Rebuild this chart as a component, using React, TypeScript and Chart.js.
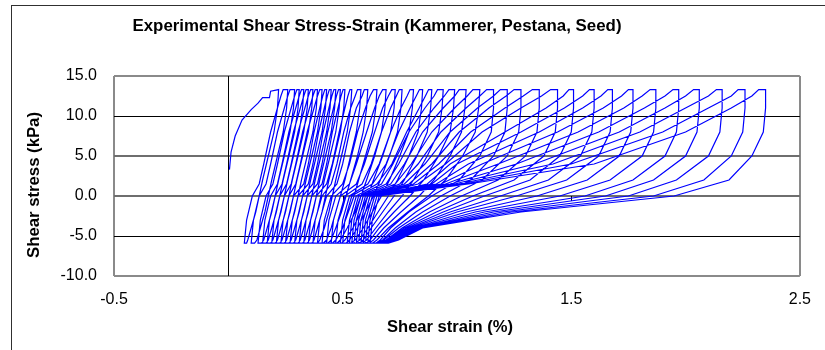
import { useEffect, useRef } from "react";
import { Chart, registerables } from "chart.js";

Chart.register(...registerables);

const chartTitle = "Experimental Shear Stress-Strain (Kammerer, Pestana, Seed)";
const xAxisTitle = "Shear strain (%)";
const yAxisTitle = "Shear stress (kPa)";

const xTicks = [-0.5, 0.5, 1.5, 2.5];
const yTicks = [-10, -5, 0, 5, 10, 15];

// first (monotonic) loading branch
const initialStrain = [0.005, 0.012, 0.03, 0.06, 0.1, 0.13, 0.15, 0.18, 0.185];
const initialStress = [3.3, 5.5, 7.5, 9.5, 10.8, 11.6, 12.3, 12.3, 13.1];

// stress levels visited in every cycle: top -> unload -> bottom -> reload -> top
const stressPath = [13.3, 11, 8, 5, 2, 0, -2, -4, -5.5, -5.9, -5.9, -3, 0, 1.5, 4, 8, 11, 12.5, 13.3];

// strain (%) read at each stress level above, one row per cycle
const cycleStrain = [
  [0.22, 0.215, 0.2, 0.175, 0.15, 0.135, 0.12, 0.1, 0.085, 0.08, 0.07, 0.08, 0.105, 0.135, 0.155, 0.185, 0.215, 0.23, 0.24],
  [0.26, 0.255, 0.24, 0.215, 0.19, 0.175, 0.16, 0.14, 0.125, 0.115, 0.1, 0.11, 0.135, 0.165, 0.185, 0.215, 0.245, 0.26, 0.27],
  [0.29, 0.285, 0.27, 0.245, 0.22, 0.205, 0.19, 0.17, 0.155, 0.145, 0.13, 0.14, 0.165, 0.195, 0.215, 0.245, 0.275, 0.29, 0.3],
  [0.31, 0.305, 0.29, 0.265, 0.24, 0.225, 0.21, 0.19, 0.175, 0.165, 0.15, 0.16, 0.185, 0.215, 0.235, 0.265, 0.295, 0.31, 0.32],
  [0.33, 0.325, 0.31, 0.285, 0.26, 0.245, 0.23, 0.21, 0.195, 0.185, 0.17, 0.18, 0.205, 0.235, 0.255, 0.285, 0.315, 0.33, 0.34],
  [0.35, 0.345, 0.33, 0.305, 0.28, 0.265, 0.25, 0.23, 0.215, 0.205, 0.19, 0.2, 0.225, 0.255, 0.275, 0.305, 0.335, 0.35, 0.36],
  [0.37, 0.365, 0.35, 0.325, 0.3, 0.285, 0.27, 0.25, 0.235, 0.225, 0.21, 0.22, 0.245, 0.275, 0.295, 0.325, 0.355, 0.37, 0.38],
  [0.39, 0.385, 0.37, 0.345, 0.32, 0.305, 0.29, 0.27, 0.255, 0.245, 0.23, 0.24, 0.265, 0.295, 0.315, 0.345, 0.375, 0.39, 0.4],
  [0.41, 0.405, 0.39, 0.365, 0.34, 0.325, 0.31, 0.29, 0.275, 0.265, 0.25, 0.26, 0.285, 0.33, 0.35, 0.375, 0.4, 0.413, 0.422],
  [0.43, 0.425, 0.41, 0.385, 0.36, 0.345, 0.33, 0.31, 0.295, 0.285, 0.27, 0.28, 0.305, 0.35, 0.37, 0.395, 0.42, 0.433, 0.442],
  [0.45, 0.445, 0.43, 0.405, 0.38, 0.365, 0.35, 0.33, 0.315, 0.305, 0.29, 0.3, 0.325, 0.37, 0.39, 0.415, 0.44, 0.453, 0.462],
  [0.47, 0.465, 0.45, 0.425, 0.4, 0.385, 0.37, 0.35, 0.335, 0.325, 0.31, 0.32, 0.345, 0.39, 0.41, 0.435, 0.46, 0.473, 0.482],
  [0.49, 0.485, 0.47, 0.445, 0.42, 0.405, 0.39, 0.37, 0.355, 0.345, 0.33, 0.34, 0.365, 0.41, 0.43, 0.455, 0.48, 0.493, 0.502],
  [0.51, 0.505, 0.49, 0.465, 0.44, 0.425, 0.41, 0.39, 0.375, 0.365, 0.35, 0.36, 0.385, 0.43, 0.455, 0.485, 0.51, 0.523, 0.532],
  [0.54, 0.535, 0.52, 0.495, 0.47, 0.455, 0.44, 0.42, 0.4, 0.39, 0.37, 0.38, 0.41, 0.45, 0.475, 0.505, 0.535, 0.555, 0.565],
  [0.58, 0.575, 0.56, 0.535, 0.51, 0.49, 0.47, 0.45, 0.43, 0.415, 0.39, 0.4, 0.43, 0.475, 0.5, 0.53, 0.56, 0.585, 0.595],
  [0.61, 0.605, 0.59, 0.565, 0.535, 0.515, 0.495, 0.47, 0.45, 0.435, 0.41, 0.42, 0.45, 0.5, 0.53, 0.565, 0.6, 0.62, 0.635],
  [0.65, 0.645, 0.63, 0.6, 0.57, 0.55, 0.525, 0.5, 0.47, 0.455, 0.43, 0.44, 0.47, 0.53, 0.56, 0.605, 0.64, 0.66, 0.675],
  [0.69, 0.685, 0.67, 0.64, 0.605, 0.58, 0.555, 0.52, 0.49, 0.475, 0.45, 0.46, 0.49, 0.56, 0.595, 0.64, 0.675, 0.7, 0.715],
  [0.73, 0.725, 0.71, 0.675, 0.635, 0.61, 0.58, 0.545, 0.51, 0.495, 0.47, 0.48, 0.51, 0.585, 0.625, 0.67, 0.71, 0.735, 0.748],
  [0.76, 0.755, 0.74, 0.705, 0.665, 0.635, 0.6, 0.565, 0.53, 0.515, 0.49, 0.5, 0.53, 0.61, 0.66, 0.71, 0.755, 0.782, 0.795],
  [0.81, 0.805, 0.79, 0.75, 0.705, 0.67, 0.63, 0.59, 0.555, 0.535, 0.5, 0.51, 0.54, 0.63, 0.69, 0.745, 0.795, 0.822, 0.836],
  [0.85, 0.845, 0.83, 0.79, 0.74, 0.7, 0.655, 0.61, 0.575, 0.555, 0.52, 0.53, 0.56, 0.65, 0.715, 0.78, 0.835, 0.862, 0.876],
  [0.89, 0.885, 0.87, 0.825, 0.77, 0.725, 0.675, 0.625, 0.59, 0.57, 0.53, 0.54, 0.57, 0.67, 0.72, 0.79, 0.86, 0.9, 0.915],
  [0.94, 0.935, 0.92, 0.87, 0.81, 0.76, 0.7, 0.645, 0.605, 0.585, 0.54, 0.55, 0.58, 0.69, 0.745, 0.82, 0.9, 0.945, 0.965],
  [0.99, 0.985, 0.97, 0.92, 0.855, 0.795, 0.725, 0.66, 0.62, 0.6, 0.55, 0.56, 0.59, 0.71, 0.77, 0.85, 0.94, 0.99, 1.01],
  [1.04, 1.035, 1.02, 0.97, 0.9, 0.835, 0.755, 0.68, 0.635, 0.615, 0.56, 0.57, 0.6, 0.73, 0.8, 0.89, 0.99, 1.045, 1.07],
  [1.1, 1.095, 1.08, 1.025, 0.95, 0.875, 0.785, 0.7, 0.65, 0.63, 0.57, 0.58, 0.61, 0.75, 0.83, 0.93, 1.04, 1.1, 1.13],
  [1.16, 1.16, 1.15, 1.1, 1.01, 0.89, 0.79, 0.71, 0.665, 0.645, 0.57, 0.58, 0.61, 0.77, 0.86, 0.97, 1.09, 1.16, 1.19],
  [1.22, 1.22, 1.21, 1.16, 1.06, 0.93, 0.82, 0.73, 0.675, 0.65, 0.58, 0.59, 0.62, 0.79, 0.89, 1.01, 1.14, 1.215, 1.25],
  [1.28, 1.28, 1.27, 1.22, 1.11, 0.97, 0.85, 0.745, 0.68, 0.655, 0.58, 0.59, 0.62, 0.81, 0.92, 1.06, 1.21, 1.29, 1.33],
  [1.36, 1.36, 1.35, 1.3, 1.18, 1.02, 0.88, 0.76, 0.69, 0.66, 0.59, 0.6, 0.63, 0.83, 0.95, 1.11, 1.28, 1.37, 1.41],
  [1.44, 1.44, 1.43, 1.38, 1.25, 1.07, 0.91, 0.77, 0.695, 0.665, 0.59, 0.6, 0.63, 0.87, 0.97, 1.21, 1.39, 1.465, 1.49],
  [1.51, 1.51, 1.5, 1.45, 1.32, 1.12, 0.94, 0.78, 0.7, 0.67, 0.6, 0.61, 0.64, 0.89, 1.0, 1.28, 1.47, 1.55, 1.58],
  [1.6, 1.6, 1.59, 1.54, 1.4, 1.19, 0.97, 0.79, 0.705, 0.67, 0.6, 0.61, 0.64, 0.91, 1.05, 1.36, 1.55, 1.63, 1.66],
  [1.68, 1.68, 1.67, 1.62, 1.48, 1.26, 1.0, 0.8, 0.71, 0.675, 0.6, 0.61, 0.64, 0.93, 1.11, 1.44, 1.64, 1.72, 1.75],
  [1.77, 1.77, 1.76, 1.71, 1.57, 1.35, 1.04, 0.81, 0.715, 0.68, 0.61, 0.62, 0.65, 0.95, 1.18, 1.53, 1.73, 1.81, 1.845],
  [1.87, 1.87, 1.86, 1.81, 1.67, 1.45, 1.08, 0.82, 0.72, 0.68, 0.61, 0.62, 0.65, 0.97, 1.26, 1.62, 1.82, 1.91, 1.945],
  [1.97, 1.97, 1.96, 1.91, 1.77, 1.56, 1.12, 0.83, 0.725, 0.685, 0.61, 0.62, 0.65, 0.99, 1.34, 1.71, 1.91, 2.0, 2.035],
  [2.06, 2.06, 2.05, 2.0, 1.86, 1.65, 1.16, 0.835, 0.73, 0.69, 0.62, 0.63, 0.66, 1.01, 1.42, 1.8, 2.0, 2.1, 2.135],
  [2.16, 2.16, 2.15, 2.1, 1.96, 1.75, 1.2, 0.84, 0.735, 0.69, 0.62, 0.63, 0.66, 1.03, 1.5, 1.9, 2.1, 2.2, 2.23],
  [2.26, 2.26, 2.25, 2.2, 2.08, 1.86, 1.24, 0.845, 0.74, 0.695, 0.62, 0.63, 0.66, 1.05, 1.6, 2.0, 2.2, 2.29, 2.32],
  [2.35, 2.35, 2.34, 2.29, 2.19, 1.95, 1.28, 0.85, 0.745, 0.7, 0.63],
];

const FONT = "'Liberation Sans', Arial, sans-serif";

function drawFitted(
  ctx: CanvasRenderingContext2D,
  text: string,
  cx: number,
  cy: number,
  targetWidth: number,
  font: string,
  rotate: boolean
) {
  ctx.save();
  ctx.font = font;
  const w = ctx.measureText(text).width || 1;
  ctx.translate(cx, cy);
  if (rotate) ctx.rotate(-Math.PI / 2);
  ctx.scale(targetWidth / w, 1);
  ctx.fillStyle = "#000";
  ctx.textAlign = "center";
  ctx.textBaseline = "middle";
  ctx.fillText(text, 0, 0);
  ctx.restore();
}

export default function App() {
  const canvasRef = useRef<HTMLCanvasElement>(null);

  useEffect(() => {
    document.body.style.margin = "0";
    const canvas = canvasRef.current;
    if (!canvas) return;

    const points: { x: number; y: number }[] = [];
    initialStrain.forEach((x, i) => points.push({ x, y: initialStress[i] }));
    cycleStrain.forEach((row) => row.forEach((x, i) => points.push({ x, y: stressPath[i] })));

    const excelPlugin = {
      id: "excelDecor",
      beforeDraw(chart: any) {
        const ctx = chart.ctx as CanvasRenderingContext2D;
        ctx.save();
        ctx.fillStyle = "#fff";
        ctx.fillRect(0, 0, chart.width, chart.height);
        ctx.strokeStyle = "#303030";
        ctx.lineWidth = 1;
        ctx.strokeRect(11.5, 5.5, 1200, 1200);
        ctx.restore();
      },
      beforeDatasetsDraw(chart: any) {
        const ctx = chart.ctx as CanvasRenderingContext2D;
        const xs = chart.scales.x;
        const ys = chart.scales.y;
        const { top, bottom } = chart.chartArea;
        ctx.save();
        ctx.strokeStyle = "#000";
        ctx.lineWidth = 1;
        const x0 = Math.round(xs.getPixelForValue(0)) + 0.5;
        ctx.beginPath();
        ctx.moveTo(x0, top);
        ctx.lineTo(x0, bottom);
        const y0 = ys.getPixelForValue(0);
        xTicks.slice(1, -1).forEach((v) => {
          const px = Math.round(xs.getPixelForValue(v)) + 0.5;
          ctx.moveTo(px, y0);
          ctx.lineTo(px, y0 + 5);
        });
        ctx.stroke();
        ctx.restore();
      },
      afterDraw(chart: any) {
        const ctx = chart.ctx as CanvasRenderingContext2D;
        drawFitted(ctx, chartTitle, 377, 27, 489, `bold 16px ${FONT}`, false);
        drawFitted(ctx, yAxisTitle, 35, 185, 146, `bold 16px ${FONT}`, true);
        drawFitted(ctx, xAxisTitle, 450, 328, 126, `bold 16px ${FONT}`, false);
      },
    };

    const chart = new Chart(canvas, {
      type: "scatter",
      data: {
        datasets: [
          {
            data: points,
            showLine: true,
            borderColor: "#0000FF",
            borderWidth: 1.2,
            pointRadius: 0,
            pointHoverRadius: 0,
            fill: false,
            tension: 0,
          },
        ],
      },
      options: {
        responsive: false,
        animation: false,
        layout: { padding: { top: 76, right: 18, bottom: 0, left: 0 } },
        plugins: {
          legend: { display: false },
          tooltip: { enabled: false },
          title: { display: false },
        },
        scales: {
          x: {
            type: "linear",
            min: -0.5,
            max: 2.5,
            afterBuildTicks: (s: any) => {
              s.ticks = xTicks.map((value) => ({ value }));
            },
            afterFit: (s: any) => {
              s.height = 74;
            },
            border: { display: false },
            grid: {
              drawTicks: false,
              color: (c: any) => (c.tick && (c.tick.value === -0.5 || c.tick.value === 2.5) ? "#8a8a8a" : "rgba(0,0,0,0)"),
              lineWidth: (c: any) => (c.tick && (c.tick.value === -0.5 || c.tick.value === 2.5) ? 2 : 0),
            },
            ticks: {
              padding: 14,
              color: "#000",
              font: { family: FONT, size: 16 },
              callback: (v: any) => Number(v).toFixed(1),
            },
          },
          y: {
            type: "linear",
            min: -10,
            max: 15,
            afterBuildTicks: (s: any) => {
              s.ticks = yTicks.map((value) => ({ value }));
            },
            afterFit: (s: any) => {
              s.width = 114;
            },
            border: { display: false },
            grid: {
              drawTicks: false,
              color: (c: any) => {
                const v = c.tick ? c.tick.value : 0;
                if (v === 15 || v === -10) return "#8a8a8a";
                if (v === 0 || v === 5) return "#6e6e6e";
                return "#000";
              },
              lineWidth: (c: any) => {
                const v = c.tick ? c.tick.value : 0;
                if (v === 15 || v === -10 || v === 0 || v === 5) return 2;
                return 1;
              },
            },
            ticks: {
              padding: 17,
              color: "#000",
              font: { family: FONT, size: 16 },
              callback: (v: any) => Number(v).toFixed(1),
            },
          },
        },
      },
      plugins: [excelPlugin],
    });

    return () => chart.destroy();
  }, []);

  return <canvas ref={canvasRef} width={825} height={350} style={{ display: "block" }} />;
}
